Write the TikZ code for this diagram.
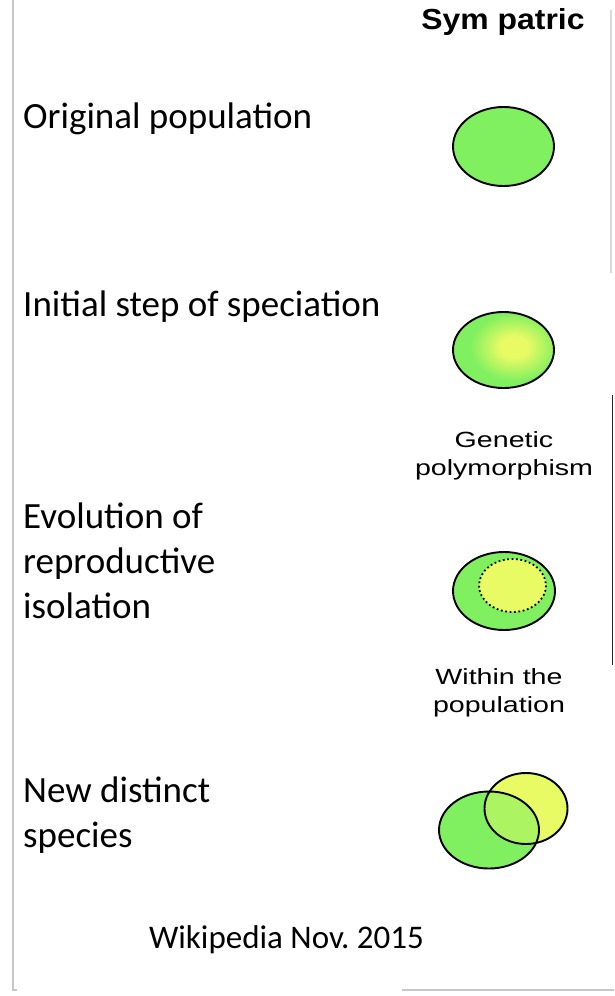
\documentclass[tikz,border=0pt]{standalone}
\usepackage{fontspec}
\setmainfont{Carlito}
\newfontfamily\notefont[FakeStretch=1.3]{Liberation Sans}
\newfontfamily\headfont[FakeStretch=1.1]{Liberation Sans Bold}
\frenchspacing
\usetikzlibrary{positioning}

\definecolor{popgreen}{RGB}{128,240,96}
\definecolor{popyellow}{RGB}{232,250,100}
\definecolor{popmix}{RGB}{172,244,98}
\definecolor{edgegray}{RGB}{200,200,200}

\pgfdeclareradialshading{glow}{\pgfpoint{0bp}{0bp}}{%
  color(0bp)=(popyellow); color(8bp)=(popyellow);
  color(25bp)=(popgreen); color(50bp)=(popgreen)}

\tikzset{
  steplabel/.style={anchor=base west, inner sep=0, align=left,
    font=\fontsize{37}{45}\selectfont},
  notelabel/.style={anchor=base, inner sep=0, align=center,
    font=\notefont\fontsize{22}{28}\selectfont},
  popline/.style={line width=1.9}
}

\begin{document}
\begin{tikzpicture}[x=1pt,y=-1pt]
\useasboundingbox (0,0) rectangle (614,996);

% edges of the page
\draw[edgegray, line width=1.5]
  (13,0) -- (13,990) -- (17,990);
\draw[edgegray, line width=1.5]
  (402,990) -- (614,990);
\draw[black!15, line width=2]
  (611,10) -- (611,273);
\draw[black!85, line width=1.2]
  (612.5,395) -- (612.5,665);

% column head
\node[inner sep=0, anchor=base, font=\headfont\fontsize{29}{32}\selectfont]
  (sym) at (503,29) {Sym patric};

% steps (base = last line)
\node[steplabel] (orig) at (23,128) {Original population};
\node[steplabel] (initial) at (23,316) {Initial step of speciation};
\node[steplabel] (evol) at (23,618) {Evolution of\\reproductive\\isolation};
\node[steplabel] (newsp) at (23,847) {New distinct\\species};

\node[inner sep=0, anchor=base, font=\fontsize{33}{40}\selectfont]
  (wiki) at (286.5,948) {Wikipedia Nov. 2015};

% notes
\node[notelabel] (genpoly) at (504,475) {Genetic\\polymorphism};
\node[notelabel] (within) at (499,712) {Within the\\population};

% original population
\draw[popline, fill=popgreen]
  (503.5,146.5) ellipse [x radius=50.5, y radius=39.5];

% polymorphism
\begin{scope}
\clip (503.5,350) ellipse [x radius=50.5, y radius=38];
\fill[popgreen] (503.5,350) ellipse [x radius=50.5, y radius=38];
\shade[shading=glow]
  (514,347) ellipse [x radius=44, y radius=34];
\end{scope}
\draw[popline]
  (503.5,350) ellipse [x radius=50.5, y radius=38];

% isolation
\draw[popline, fill=popgreen]
  (504,591) ellipse [x radius=51, y radius=39];
\draw[line width=1.8, dash pattern=on 1.8pt off 2.6pt, fill=popyellow]
  (512.5,585.5) ellipse [x radius=33.5, y radius=26.5];

% two species
\fill[popgreen] (489,830) ellipse [x radius=50, y radius=38.5];
\fill[popyellow] (526,808.5) ellipse [x radius=41.5, y radius=35.5];
\begin{scope}
\clip (489,830) ellipse [x radius=50, y radius=38.5];
\fill[popmix] (526,808.5) ellipse [x radius=41.5, y radius=35.5];
\end{scope}
\draw[popline] (489,830) ellipse [x radius=50, y radius=38.5];
\draw[popline] (526,808.5) ellipse [x radius=41.5, y radius=35.5];

\end{tikzpicture}
\end{document}
